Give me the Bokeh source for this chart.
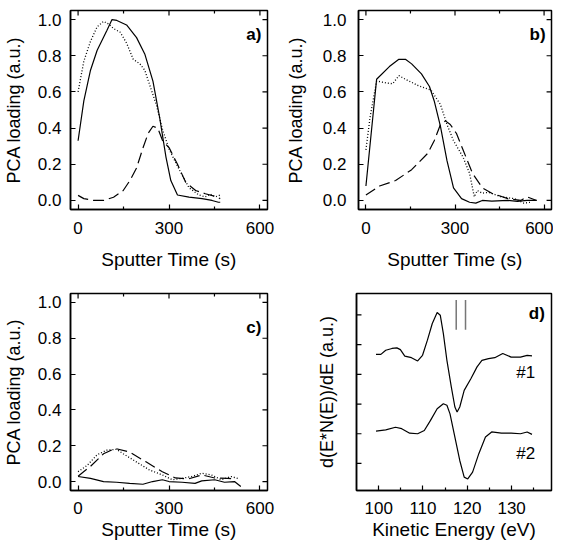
from bokeh.plotting import figure
from bokeh.models import Range1d, Label, FixedTicker, NumeralTickFormatter
from bokeh.layouts import row, column
from bokeh.embed import file_html
from bokeh.resources import INLINE

FONT = "Liberation Sans"

# ---------------- data ----------------
# panel a
a_solid_t = [0, 19, 41, 63, 95, 112, 128, 160, 193, 220, 247, 269, 290, 306, 328, 366, 409, 442, 463, 469]
a_solid_y = [0.33, 0.55, 0.72, 0.83, 0.94, 1.0, 0.995, 0.97, 0.90, 0.81, 0.66, 0.46, 0.24, 0.11, 0.03, 0.018, 0.01, 0.0, -0.01, -0.01]
a_dot_t = [0, 19, 41, 63, 84, 101, 117, 139, 160, 182, 204, 220, 236, 258, 279, 301, 334, 366, 399, 420, 436, 453, 469]
a_dot_y = [0.60, 0.77, 0.88, 0.96, 0.99, 0.975, 0.95, 0.93, 0.87, 0.78, 0.755, 0.72, 0.64, 0.53, 0.39, 0.28, 0.17, 0.07, 0.03, 0.02, 0.035, 0.02, 0.03]
a_dash_t = [0, 19, 52, 84, 117, 149, 171, 193, 214, 231, 247, 263, 279, 301, 328, 355, 388, 420, 453, 469]
a_dash_y = [0.028, 0.01, 0.0, 0.0, 0.018, 0.055, 0.11, 0.18, 0.29, 0.37, 0.41, 0.40, 0.33, 0.29, 0.20, 0.10, 0.055, 0.037, 0.022, 0.01]

# panel b
b_solid_t = [0, 36, 79, 111, 133, 154, 187, 214, 230, 251, 273, 295, 322, 349, 370, 392, 424, 478, 510, 543, 575]
b_solid_y = [0.08, 0.67, 0.74, 0.78, 0.78, 0.755, 0.70, 0.63, 0.55, 0.41, 0.22, 0.07, 0.01, -0.01, -0.015, 0.0, -0.004, 0.0, -0.005, 0.0, 0.0]
b_dot_t = [0, 14, 36, 68, 90, 111, 133, 176, 219, 251, 273, 295, 327, 349, 365, 375, 392, 413, 456, 500, 532, 554]
b_dot_y = [0.28, 0.46, 0.66, 0.65, 0.645, 0.69, 0.67, 0.635, 0.61, 0.53, 0.42, 0.33, 0.24, 0.15, 0.02, 0.055, 0.04, 0.045, 0.02, 0.01, -0.015, -0.01]
b_dash_t = [0, 46, 100, 154, 208, 230, 251, 268, 284, 305, 327, 359, 392, 424, 478, 521, 543, 575]
b_dash_y = [0.03, 0.08, 0.11, 0.17, 0.26, 0.33, 0.42, 0.44, 0.42, 0.37, 0.28, 0.15, 0.07, 0.04, 0.01, 0.0, 0.02, 0.0]

# panel c
c_solid_t = [0, 41, 84, 127, 170, 214, 246, 278, 300, 343, 386, 408, 451, 483, 516, 537]
c_solid_y = [0.028, 0.018, 0.0, -0.004, -0.01, -0.015, 0.0, 0.01, 0.0, -0.004, -0.01, 0.004, 0.01, -0.004, 0.0, -0.028]
c_dot_t = [0, 30, 63, 95, 127, 149, 192, 235, 278, 311, 343, 375, 408, 440, 473, 505, 527]
c_dot_y = [0.055, 0.09, 0.15, 0.175, 0.18, 0.155, 0.11, 0.065, 0.037, 0.01, 0.018, 0.028, 0.046, 0.037, 0.01, 0.028, 0.018]
c_dash_t = [0, 41, 84, 122, 170, 224, 278, 321, 365, 408, 451, 494, 516]
c_dash_y = [0.03, 0.085, 0.155, 0.185, 0.165, 0.11, 0.055, 0.02, 0.015, 0.037, 0.02, 0.018, 0.015]

# panel d (spectra, offset as drawn)
d1_e = [99.4, 100.5, 101.6, 103.0, 104.1, 104.9, 105.9, 107.4, 108.8, 109.9, 111.0, 112.1, 113.2, 113.9, 114.6, 115.4, 116.4, 117.2, 117.7, 118.3, 119.3, 120.8, 122.2, 123.3, 124.8, 126.2, 128.0, 129.9, 132.0, 133.5, 134.6]
d1_y = [3.67, 3.67, 3.81, 3.87, 3.89, 3.83, 3.61, 3.56, 3.45, 3.64, 4.15, 4.71, 5.08, 4.99, 4.37, 3.47, 2.57, 1.90, 1.73, 1.90, 2.46, 2.85, 3.25, 3.47, 3.53, 3.56, 3.70, 3.58, 3.58, 3.64, 3.62]
d2_e = [99.4, 101.6, 103.8, 105.2, 107.0, 108.8, 110.3, 111.7, 113.2, 114.6, 115.4, 116.1, 117.2, 118.3, 119.3, 120.1, 121.2, 122.6, 124.1, 125.5, 127.7, 129.9, 132.0, 133.5, 134.6]
d2_y = [1.09, 1.13, 1.22, 1.17, 1.02, 1.0, 1.11, 1.45, 1.84, 2.01, 1.96, 1.67, 0.89, 0.10, -0.46, -0.52, -0.29, 0.33, 0.89, 1.06, 1.02, 1.02, 1.0, 1.06, 0.98]
d_marker_e = [117.5, 119.6]
d_marker_y0 = [4.5, 4.5]
d_marker_y1 = [5.5, 5.5]

# ticks
t_major = [0, 300, 600]
t_minor = [150, 450]
load_ticks = [0.0, 0.2, 0.4, 0.6, 0.8, 1.0]
e_major = [100, 110, 120, 130]
e_minor = [105, 115, 125, 135]
d_yticks = [0, 1, 2, 3, 4, 5]

panel_labels = ["a)", "b)", "c)", "d)"]
curve_labels = ["#1", "#2"]

FRAME_W = 196
FRAME_H = 198
MAJOR_LEN = 5
MINOR_LEN = 3


def style_axis(ax, ticker, fmt=None, label=None, lstand=8, astand=10, label_size="18px"):
    ax.ticker = ticker
    ax.major_tick_in = MAJOR_LEN
    ax.major_tick_out = 0
    ax.minor_tick_in = MINOR_LEN
    ax.minor_tick_out = 0
    ax.axis_line_color = "black"
    ax.axis_line_width = 1.5
    ax.major_tick_line_width = 1.2
    ax.minor_tick_line_width = 1.2
    ax.major_label_text_font = FONT
    ax.major_label_text_color = "black"
    ax.major_label_text_font_size = "17px"
    ax.major_label_standoff = lstand
    if fmt is not None:
        ax.formatter = fmt
    if label is not None:
        ax.axis_label = label
        ax.axis_label_text_font = FONT
        ax.axis_label_text_font_size = label_size
        ax.axis_label_text_font_style = "normal"
        ax.axis_label_text_color = "black"
        ax.axis_label_standoff = astand


def make_fig(width, height, xr, yr, bl, br, bt, bb):
    p = figure(width=width, height=height, x_range=Range1d(*xr), y_range=Range1d(*yr),
               output_backend="svg", toolbar_location=None,
               min_border_left=bl, min_border_right=br, min_border_top=bt, min_border_bottom=bb)
    p.grid.visible = False
    p.outline_line_color = "black"
    p.outline_line_width = 1.5
    p.background_fill_color = "white"
    p.border_fill_color = "white"
    return p


def mirror_x_ticks(p, majors, minors):
    # inward ticks along the top edge, derived from the tick lists
    y_end = p.y_range.end
    span = p.y_range.end - p.y_range.start
    for ticks, ln in ((majors, MAJOR_LEN), (minors, MINOR_LEN)):
        d = span * ln / FRAME_H
        p.segment(x0=ticks, x1=ticks, y0=[y_end] * len(ticks), y1=[y_end - d] * len(ticks),
                  line_color="black", line_width=1.2)


def mirror_y_ticks(p, ticks, side):
    span = p.x_range.end - p.x_range.start
    d = span * MAJOR_LEN / FRAME_W
    if side == "right":
        x0, x1 = p.x_range.end, p.x_range.end - d
    else:
        x0, x1 = p.x_range.start, p.x_range.start + d
    p.segment(x0=[x0] * len(ticks), x1=[x1] * len(ticks), y0=ticks, y1=ticks,
              line_color="black", line_width=1.2)


def add_text(p, x, y, text, bold=False):
    p.add_layout(Label(x=x, y=y, text=text, text_font=FONT, text_font_size="17px",
                       text_font_style="bold" if bold else "normal", text_color="black",
                       text_align="right", text_baseline="middle"))


def sputter_panel(width, height, bl, br, bt, bb, ylstand, yastand, xlstand, xastand,
                  solid, dot, dash, lab, laby):
    p = make_fig(width, height, (-25, 625), (-0.05, 1.05), bl, br, bt, bb)
    xt = FixedTicker(ticks=t_major, minor_ticks=t_minor)
    yt = FixedTicker(ticks=load_ticks, minor_ticks=[])
    style_axis(p.xaxis[0], xt, label="Sputter Time (s)", lstand=xlstand, astand=xastand, label_size="19px")
    style_axis(p.yaxis[0], yt, fmt=NumeralTickFormatter(format="0.0"), label="PCA loading (a.u.)",
               lstand=ylstand, astand=yastand)
    mirror_x_ticks(p, t_major, t_minor)
    mirror_y_ticks(p, load_ticks, "right")
    p.line(solid[0], solid[1], line_color="black", line_width=1.2)
    p.line(dot[0], dot[1], line_color="black", line_width=1.3, line_dash="1 2")
    p.line(dash[0], dash[1], line_color="black", line_width=1.2, line_dash="11 5")
    add_text(p, 605, laby, lab, bold=True)
    return p


# total width kept at 553 px so the row is never squeezed
pa = sputter_panel(282, 280, 69, 15, 10, 71, 9, 11, 12, 12,
                   (a_solid_t, a_solid_y), (a_dot_t, a_dot_y), (a_dash_t, a_dash_y), panel_labels[0], 0.92)
pb = sputter_panel(271, 280, 74, 2, 10, 71, 12, 14, 12, 12,
                   (b_solid_t, b_solid_y), (b_dot_t, b_dot_y), (b_dash_t, b_dash_y), panel_labels[1], 0.92)
pc = sputter_panel(282, 264, 69, 15, 13, 54, 9, 11, 11, 2,
                   (c_solid_t, c_solid_y), (c_dot_t, c_dot_y), (c_dash_t, c_dash_y), panel_labels[2], 0.86)

pd = make_fig(271, 264, (95, 139), (-0.91, 5.72), 74, 2, 13, 54)
style_axis(pd.xaxis[0], FixedTicker(ticks=e_major, minor_ticks=e_minor), label="Kinetic Energy (eV)",
           lstand=11, astand=2, label_size="19px")
style_axis(pd.yaxis[0], FixedTicker(ticks=[], minor_ticks=[]), label="d(E*N(E))/dE (a.u.)", astand=20)
mirror_y_ticks(pd, d_yticks, "left")
pd.line(d1_e, d1_y, line_color="black", line_width=1.2)
pd.line(d2_e, d2_y, line_color="black", line_width=1.2)
pd.segment(x0=d_marker_e, y0=d_marker_y0, x1=d_marker_e, y1=d_marker_y1, line_color="#777777", line_width=1.5)
add_text(pd, 137.5, 5.05, panel_labels[3], bold=True)
add_text(pd, 135.3, 3.06, curve_labels[0])
add_text(pd, 135.3, 0.33, curve_labels[1])

layout = column(row(pa, pb), row(pc, pd))
open("out.html", "w").write(file_html(layout, INLINE))
